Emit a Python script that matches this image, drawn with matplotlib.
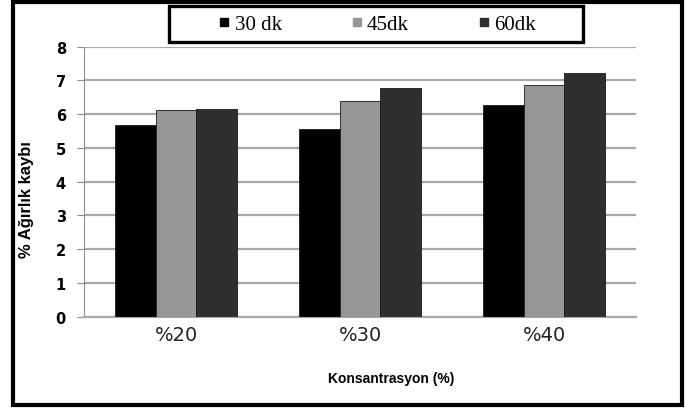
import numpy as np
import matplotlib
matplotlib.use('Agg')
import matplotlib.pyplot as plt
from matplotlib.patches import Rectangle
from matplotlib.lines import Line2D

# weight loss (%) per concentration and treatment time
konsantrasyon = ['%20', '%30', '%40']
sure_30 = [5.68, 5.55, 6.26]
sure_45 = [6.11, 6.39, 6.86]
sure_60 = [6.16, 6.77, 7.21]
seri_adlari = ['30 dk', '45dk', '60dk']
renkler = ['#000000', '#969696', '#2e2e2e']

fig = plt.figure(figsize=(6.85, 4.10), dpi=100)
ax = fig.add_axes([84/685, 1-317.7/410, (636-84)/685, (317.7-47.5)/410])

x = np.arange(len(konsantrasyon))
w = 0.22
for k, (vals, c) in enumerate(zip([sure_30, sure_45, sure_60], renkler)):
  ax.bar(x + (k-1)*w, vals, width=w, color=c, edgecolor='#1a1a1a', linewidth=0.6, zorder=3)

ax.set_xlim(-0.5, 2.5)
ax.set_ylim(0, 8)
ax.set_yticks(range(0, 9))
ax.yaxis.grid(True, color='#a8a8a8', linewidth=1.6, zorder=0)
ax.set_axisbelow(True)
for s in ['top', 'right']:
  ax.spines[s].set_visible(False)
ax.spines['left'].set_color('#8c8c8c')
ax.spines['bottom'].set_color('#a8a8a8')
ax.spines['bottom'].set_linewidth(1.6)
ax.tick_params(axis='y', length=5, color='#8c8c8c', pad=8, labelsize=10.5)
ax.tick_params(axis='x', length=0, pad=6, labelsize=14)
for t in ax.get_yticklabels():
  t.set_fontweight('bold')
ax.set_xticks(x)
ax.set_xticklabels(konsantrasyon, color='#222222')

fig.text(27/685, 1-200/410, '% Ağırlık kaybı', rotation=90, ha='center', va='center',
         fontsize=12, fontweight='bold', family='Liberation Sans')
fig.text(391/685, 1-379/410, 'Konsantrasyon (%)', ha='center', va='center',
         fontsize=10, fontweight='bold', family='Liberation Sans')

# legend inside its own thick frame
fig.patches.append(Rectangle((169/685, 1-43/410), 414/685, 36/410, transform=fig.transFigure,
                             fill=True, facecolor='white', edgecolor='black', linewidth=2.4, zorder=5))
handles = [Line2D([], [], marker='s', linestyle='none', markersize=6, color=c) for c in renkler]
fig.legend(handles, seri_adlari, loc='center', bbox_to_anchor=(376/685, 1-25/410), ncol=3,
           frameon=False, handletextpad=0.1, columnspacing=3.2, handlelength=0.8,
           prop={'family': 'Liberation Serif', 'size': 15})

# outer border
fig.patches.append(Rectangle((13/685, 4/410), 669/685, 403/410, transform=fig.transFigure,
                             fill=False, edgecolor='black', linewidth=3, zorder=6))

fig.savefig('out.png', dpi=100)
